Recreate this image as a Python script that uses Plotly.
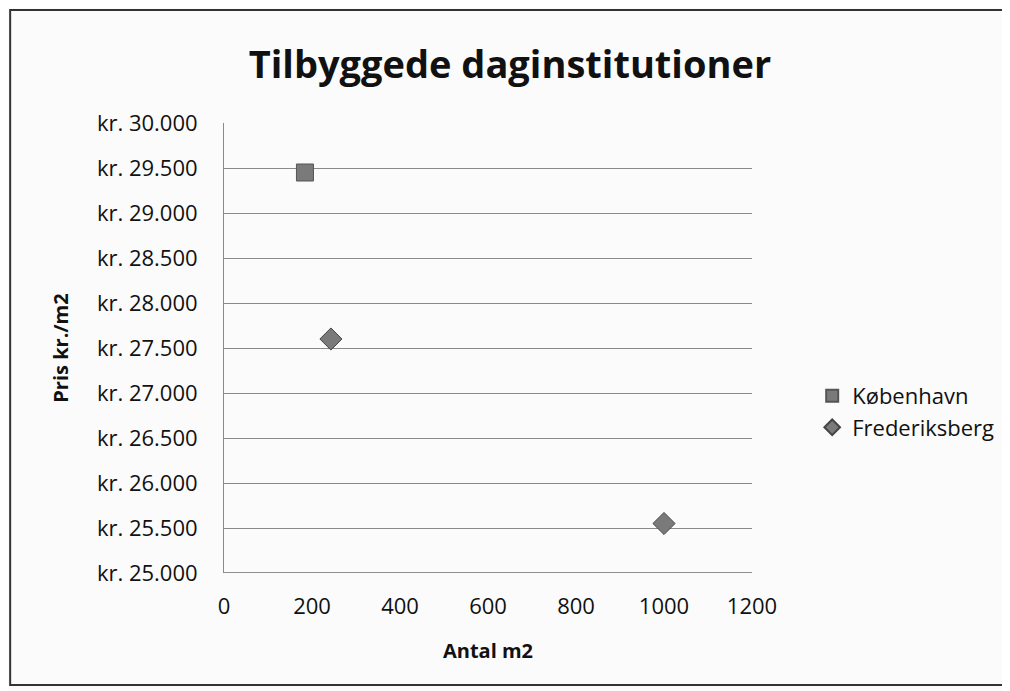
import plotly.graph_objects as go

kbh_x = [184]
kbh_y = [29450]
frb_x = [243, 1000]
frb_y = [27600, 25550]
y_tickvals = [25000, 25500, 26000, 26500, 27000, 27500, 28000, 28500, 29000, 29500, 30000]
y_ticktext = ["kr. 25.000", "kr. 25.500", "kr. 26.000", "kr. 26.500", "kr. 27.000", "kr. 27.500",
              "kr. 28.000", "kr. 28.500", "kr. 29.000", "kr. 29.500", "kr. 30.000"]
x_tickvals = [0, 200, 400, 600, 800, 1000, 1200]

FONT = "Open Sans"
fig = go.Figure()
fig.add_trace(go.Scatter(x=kbh_x, y=kbh_y, mode="markers", name="København",
                         marker=dict(symbol="square", size=17, color="#7a7a7a",
                                     line=dict(color="#555555", width=1))))
fig.add_trace(go.Scatter(x=frb_x, y=frb_y, mode="markers", name="Frederiksberg",
                         marker=dict(symbol="diamond", size=17, color="#7a7a7a",
                                     line=dict(color="#444444", width=1))))

fig.update_layout(
    width=1010, height=691,
    margin=dict(l=216, r=266, t=115, b=126),
    paper_bgcolor="#fbfbfb", plot_bgcolor="rgba(0,0,0,0)",
    font=dict(family=FONT, color="#111111"),
    title=dict(text="<b>Tilbyggede daginstitutioner</b>", x=0.497, xanchor="center",
               y=0.9175, yanchor="middle", font=dict(size=38, family=FONT, color="#111111")),
    xaxis=dict(range=[0, 1200], tickvals=x_tickvals, showgrid=False, zeroline=False,
               showline=False, ticks="", tickfont=dict(size=22), ticklabelstandoff=18,
               title=dict(text="<b>Antal m2</b>", font=dict(size=20), standoff=24)),
    yaxis=dict(range=[25000, 30000], tickvals=y_tickvals, ticktext=y_ticktext,
               showgrid=True, gridcolor="#8a8a8a", gridwidth=1, zeroline=False,
               showline=True, linecolor="#8a8a8a", linewidth=1, ticks="",
               tickfont=dict(size=22), ticklabelstandoff=21,
               title=dict(text="<b>Pris kr./m2</b>", font=dict(size=20), standoff=22)),
    legend=dict(x=1.114, y=0.358, xanchor="left", yanchor="middle",
                font=dict(size=22), bgcolor="rgba(0,0,0,0)", tracegroupgap=4, itemsizing="constant"),
    shapes=[dict(type="rect", xref="paper", yref="paper", x0=-0.405, x1=1.479, y0=-0.249, y1=1.251,
                 line=dict(color="#333333", width=2), fillcolor="rgba(0,0,0,0)"),
            dict(type="line", xref="paper", yref="y", x0=0, x1=1, y0=25000, y1=25000,
                 line=dict(color="#6a6a6a", width=1.5))],
)
fig.write_html("out.html")
